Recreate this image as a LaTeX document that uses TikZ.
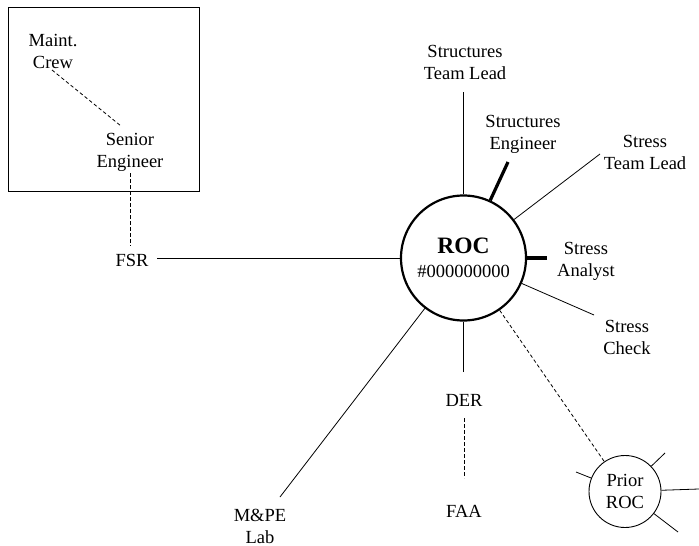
\documentclass[tikz,border=0pt]{standalone}
\usepackage{fontspec}
\setmainfont{Liberation Serif}
\begin{document}
\begin{tikzpicture}[x=1pt,y=-1pt,
  lbl/.style={align=center,inner sep=1pt,font=\fontsize{18.5}{22}\selectfont},
  thin/.style={line width=0.8pt},
  heavy/.style={line width=3.2pt},
  dsh/.style={line width=0.8pt,dash pattern=on 3.5pt off 2.5pt}]
\useasboundingbox (0,0) rectangle (699,546);
% group frame
\node[draw,line width=0.9pt,minimum width=191pt,minimum height=184pt,inner sep=0pt] (group) at (103.5,99) {};
% nodes
\node[lbl] (maint) at (53,51) {Maint.\\Crew};
\node[lbl] (senior) at (130,152) {Senior\\Engineer};
\node[lbl] (fsr) at (132,260) {FSR};
\node[circle,draw,line width=2.2pt,minimum size=125pt,inner sep=0pt,lbl] (roc) at (463.5,258)
  {{\fontsize{23.5}{26}\selectfont\bfseries ROC}\\[2pt]\#000000000};
\node[lbl] (stl) at (465,62) {Structures\\Team Lead};
\node[lbl] (seng) at (523,134) {Structures\\Engineer};
\node[lbl] (stresstl) at (645,152) {Stress\\Team Lead};
\node[lbl] (analyst) at (586,261) {Stress\\Analyst};
\node[lbl] (check) at (627,337) {Stress\\Check};
\node[lbl] (der) at (464,400) {DER};
\node[lbl] (faa) at (464,511) {FAA};
\node[lbl] (mpe) at (260,526) {M\&PE\\Lab};
\node[circle,draw,line width=0.9pt,minimum size=72pt,inner sep=0pt,lbl] (prior) at (625,491.5) {Prior\\ROC};
% connector end points
\coordinate (mcE) at (52,70);
\coordinate (seN) at (121,126);
\coordinate (seS) at (130,173);
\coordinate (fsN) at (130,246);
\coordinate (fsE) at (157,258);
\coordinate (stlS) at (463.5,92);
\coordinate (sengS) at (508,162);
\coordinate (stressS) at (600,154);
\coordinate (anW) at (547,258);
\coordinate (chW) at (594,315);
\coordinate (derN) at (463.5,372);
\coordinate (derS) at (464,418);
\coordinate (faaN) at (464,478);
\coordinate (mpeN) at (280,497);
\coordinate (p1) at (576,472);
\coordinate (p2) at (665,453);
\coordinate (p3) at (699,489);
\coordinate (p4) at (678,532);
% connectors
\draw[dsh] (mcE) -- (seN);
\draw[dsh] (seS) -- (fsN);
\draw[thin] (fsE) -- (roc);
\draw[thin] (stlS) -- (roc);
\draw[heavy] (sengS) -- (roc);
\draw[thin] (stressS) -- (roc);
\draw[heavy] (anW) -- (roc);
\draw[thin] (chW) -- (roc);
\draw[thin] (derN) -- (roc);
\draw[dsh] (derS) -- (faaN);
\draw[thin] (mpeN) -- (roc);
\draw[dsh] (roc) -- (prior);
\draw[thin] (p1) -- (prior);
\draw[thin] (p2) -- (prior);
\draw[thin] (p3) -- (prior);
\draw[thin] (p4) -- (prior);
\end{tikzpicture}
\end{document}
